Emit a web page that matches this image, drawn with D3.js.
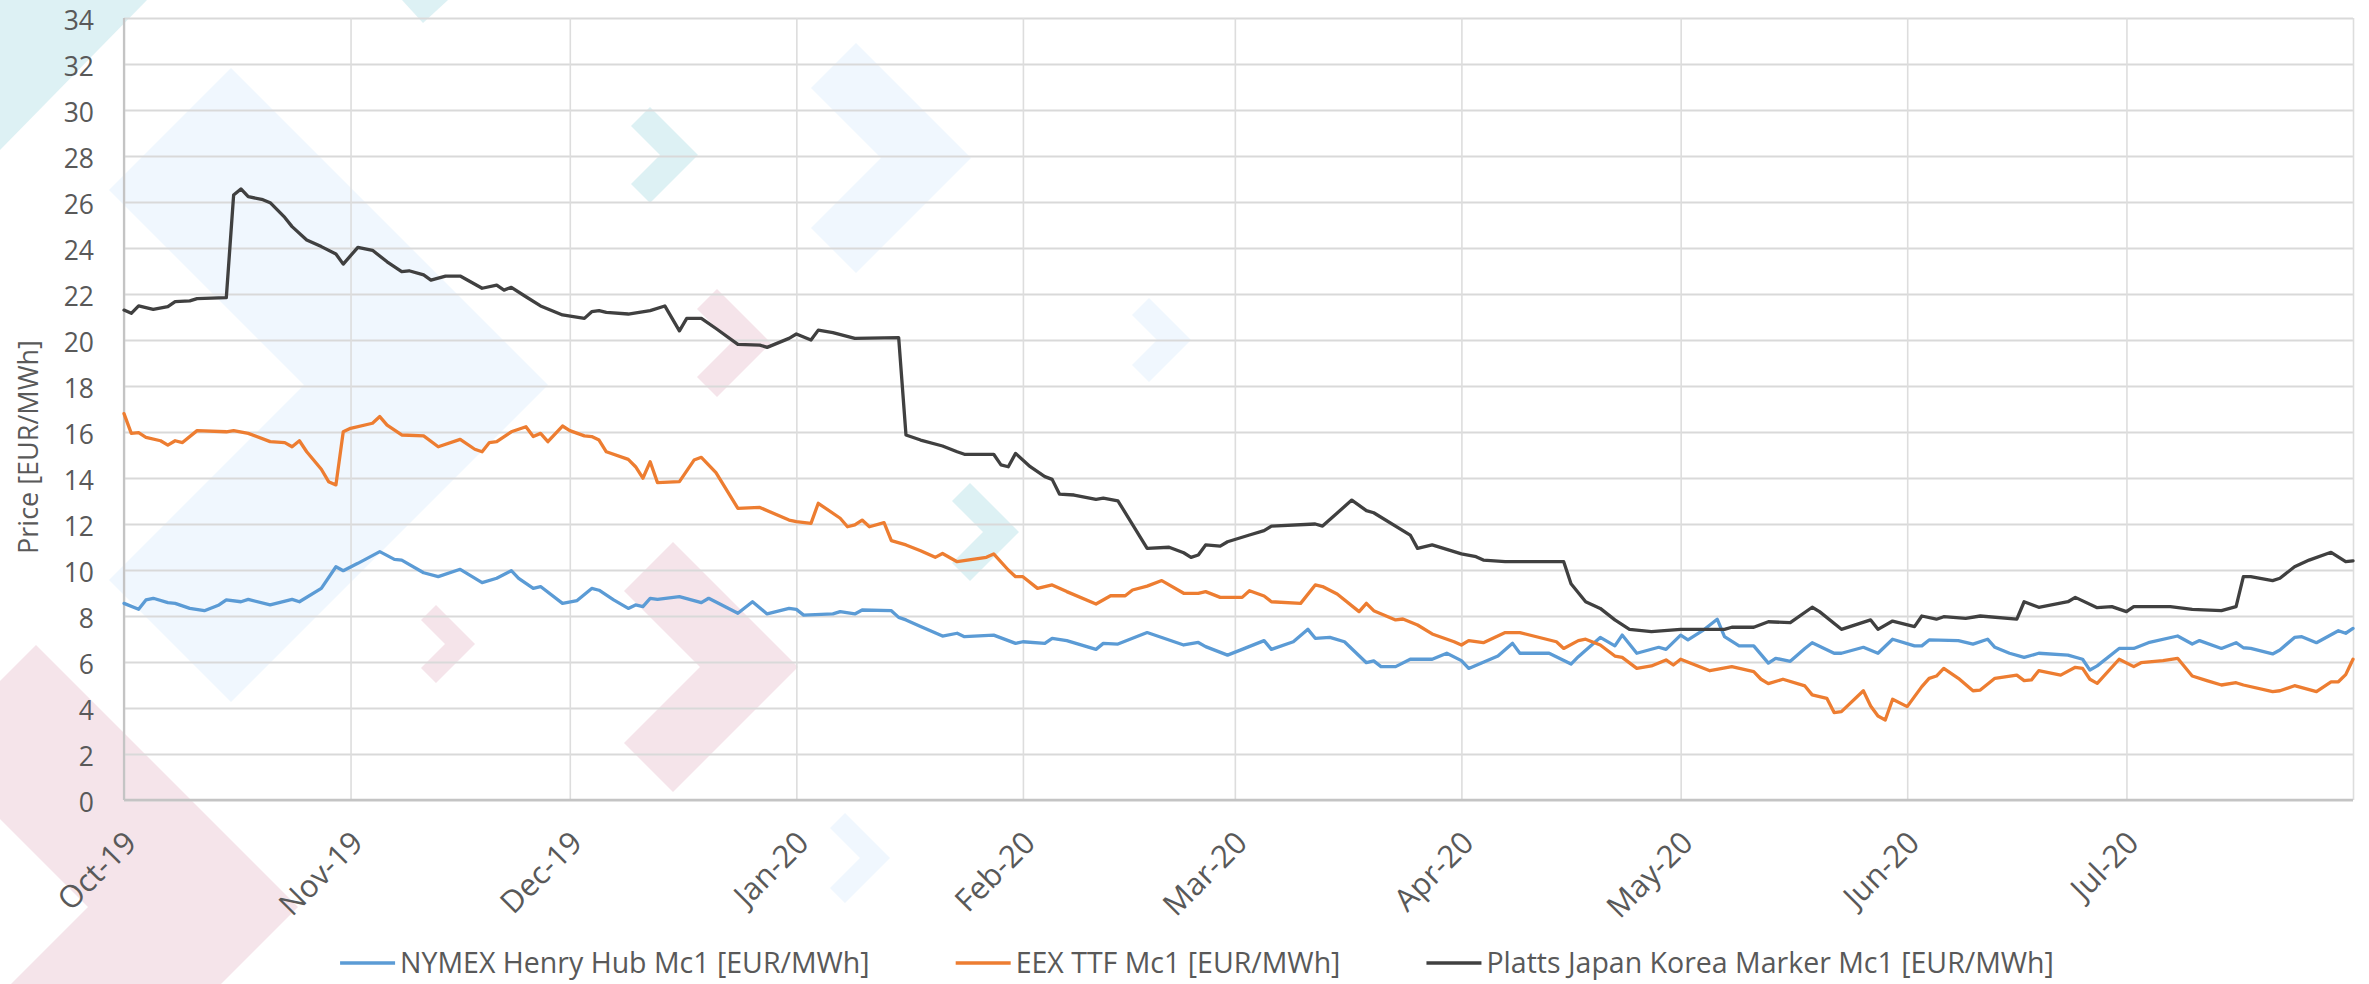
<!DOCTYPE html>
<html>
<head>
<meta charset="utf-8">
<script src="https://cdn.jsdelivr.net/npm/d3@7"></script>
<style>
  html, body { margin: 0; padding: 0; background: #ffffff; }
  svg { display: block; }
  text { font-family: "Open Sans", "DejaVu Sans", sans-serif; fill: #595959; }
</style>
</head>
<body>
<svg id="chart" width="2369" height="984"></svg>
<script>
// ---------------- DATA ----------------
const xTickLabels = ["Oct-19","Nov-19","Dec-19","Jan-20","Feb-20","Mar-20","Apr-20","May-20","Jun-20","Jul-20"];
const yTickValues = [0,2,4,6,8,10,12,14,16,18,20,22,24,26,28,30,32,34];
const axisStart = "2019-10-01";
const axisEnd = "2020-08-01";

const seriesNames = ["NYMEX Henry Hub Mc1 [EUR/MWh]", "EEX TTF Mc1 [EUR/MWh]", "Platts Japan Korea Marker Mc1 [EUR/MWh]"];
const seriesColors = ["#5B9BD5", "#ED7D31", "#404040"];

const hhDates = [
 "2019-10-01","2019-10-03","2019-10-04","2019-10-05","2019-10-07","2019-10-08","2019-10-10","2019-10-12","2019-10-14","2019-10-15","2019-10-17","2019-10-18","2019-10-21","2019-10-24","2019-10-25","2019-10-28","2019-10-30","2019-10-31",
 "2019-11-02","2019-11-05","2019-11-07","2019-11-08","2019-11-11","2019-11-13","2019-11-16","2019-11-19","2019-11-21","2019-11-23","2019-11-24","2019-11-26","2019-11-27","2019-11-30",
 "2019-12-02","2019-12-04","2019-12-05","2019-12-07","2019-12-09","2019-12-10","2019-12-11","2019-12-12","2019-12-13","2019-12-16","2019-12-19","2019-12-20","2019-12-24","2019-12-26","2019-12-28","2019-12-31",
 "2020-01-01","2020-01-02","2020-01-06","2020-01-07","2020-01-09","2020-01-10","2020-01-14","2020-01-15","2020-01-16","2020-01-18","2020-01-21","2020-01-23","2020-01-24","2020-01-28","2020-01-31",
 "2020-02-01","2020-02-04","2020-02-05","2020-02-07","2020-02-11","2020-02-12","2020-02-14","2020-02-18","2020-02-23","2020-02-25","2020-02-26","2020-02-29",
 "2020-03-02","2020-03-05","2020-03-06","2020-03-09","2020-03-11","2020-03-12","2020-03-14","2020-03-16","2020-03-19","2020-03-20","2020-03-21","2020-03-23","2020-03-25","2020-03-28","2020-03-30",
 "2020-04-01","2020-04-02","2020-04-06","2020-04-08","2020-04-09","2020-04-13","2020-04-16","2020-04-17","2020-04-20","2020-04-22","2020-04-23","2020-04-25","2020-04-28","2020-04-29",
 "2020-05-01","2020-05-02","2020-05-04","2020-05-06","2020-05-07","2020-05-09","2020-05-11","2020-05-13","2020-05-14","2020-05-16","2020-05-18","2020-05-19","2020-05-22","2020-05-23","2020-05-26","2020-05-28","2020-05-30",
 "2020-06-02","2020-06-03","2020-06-04","2020-06-08","2020-06-10","2020-06-12","2020-06-13","2020-06-15","2020-06-17","2020-06-19","2020-06-23","2020-06-25","2020-06-26","2020-06-27","2020-06-30",
 "2020-07-02","2020-07-04","2020-07-08","2020-07-10","2020-07-11","2020-07-14","2020-07-16","2020-07-17","2020-07-18","2020-07-21","2020-07-22","2020-07-24","2020-07-25","2020-07-27","2020-07-30","2020-07-31",
 "2020-08-01"];
const hhValues = [
 8.55,8.29,8.7,8.77,8.58,8.55,8.33,8.23,8.48,8.7,8.62,8.72,8.48,8.72,8.62,9.2,10.14,9.97,
 10.29,10.8,10.46,10.43,9.88,9.71,10.03,9.45,9.64,9.97,9.64,9.2,9.28,8.55,
 8.67,9.2,9.12,8.7,8.33,8.48,8.41,8.77,8.72,8.84,8.58,8.77,8.12,8.62,8.09,8.33,
 8.29,8.04,8.09,8.19,8.09,8.26,8.23,7.94,7.83,7.54,7.13,7.25,7.1,7.17,6.81,
 6.88,6.81,7.03,6.93,6.55,6.81,6.78,7.28,6.74,6.85,6.67,6.3,
 6.55,6.93,6.55,6.88,7.42,7.03,7.07,6.88,5.97,6.05,5.8,5.8,6.12,6.12,6.38,
 6.06,5.72,6.26,6.81,6.38,6.38,5.91,6.23,7.07,6.7,7.17,6.38,6.64,6.55,
 7.17,6.96,7.36,7.86,7.1,6.7,6.7,5.95,6.16,6.03,6.59,6.84,6.38,6.38,6.64,6.38,6.99,
 6.7,6.7,6.96,6.93,6.78,6.99,6.64,6.38,6.2,6.38,6.3,6.12,5.65,5.83,6.59,
 6.59,6.84,7.13,6.78,6.93,6.59,6.84,6.62,6.59,6.35,6.52,7.07,7.1,6.84,7.36,7.25,
 7.46];

const ttfDates = [
 "2019-10-01","2019-10-02","2019-10-03","2019-10-04","2019-10-06","2019-10-07","2019-10-08","2019-10-09","2019-10-11","2019-10-15","2019-10-16","2019-10-18","2019-10-21","2019-10-23","2019-10-24","2019-10-25","2019-10-26","2019-10-28","2019-10-29","2019-10-30","2019-10-31",
 "2019-11-01","2019-11-04","2019-11-05","2019-11-06","2019-11-08","2019-11-11","2019-11-13","2019-11-16","2019-11-18","2019-11-19","2019-11-20","2019-11-21","2019-11-23","2019-11-25","2019-11-26","2019-11-27","2019-11-28","2019-11-30",
 "2019-12-01","2019-12-03","2019-12-04","2019-12-05","2019-12-06","2019-12-09","2019-12-10","2019-12-11","2019-12-12","2019-12-13","2019-12-16","2019-12-18","2019-12-19","2019-12-21","2019-12-24","2019-12-27","2019-12-31",
 "2020-01-01","2020-01-03","2020-01-04","2020-01-07","2020-01-08","2020-01-09","2020-01-10","2020-01-11","2020-01-13","2020-01-14","2020-01-16","2020-01-18","2020-01-20","2020-01-21","2020-01-23","2020-01-27","2020-01-28","2020-01-30","2020-01-31",
 "2020-02-01","2020-02-03","2020-02-05","2020-02-07","2020-02-11","2020-02-13","2020-02-15","2020-02-16","2020-02-18","2020-02-20","2020-02-23","2020-02-25","2020-02-26","2020-02-28",
 "2020-03-02","2020-03-03","2020-03-05","2020-03-06","2020-03-10","2020-03-12","2020-03-13","2020-03-15","2020-03-18","2020-03-19","2020-03-20","2020-03-23","2020-03-24","2020-03-26","2020-03-28","2020-03-31",
 "2020-04-01","2020-04-02","2020-04-04","2020-04-07","2020-04-09","2020-04-14","2020-04-15","2020-04-17","2020-04-18","2020-04-20","2020-04-22","2020-04-23","2020-04-25","2020-04-27","2020-04-29","2020-04-30",
 "2020-05-01","2020-05-03","2020-05-05","2020-05-08","2020-05-11","2020-05-12","2020-05-13","2020-05-15","2020-05-18","2020-05-19","2020-05-21","2020-05-22","2020-05-23","2020-05-26","2020-05-27","2020-05-28","2020-05-29","2020-05-30",
 "2020-06-01","2020-06-03","2020-06-04","2020-06-05","2020-06-06","2020-06-08","2020-06-10","2020-06-11","2020-06-13","2020-06-16","2020-06-17","2020-06-18","2020-06-19","2020-06-22","2020-06-24","2020-06-25","2020-06-26","2020-06-27","2020-06-30",
 "2020-07-02","2020-07-03","2020-07-06","2020-07-08","2020-07-10","2020-07-12","2020-07-14","2020-07-16","2020-07-17","2020-07-21","2020-07-22","2020-07-24","2020-07-27","2020-07-29","2020-07-30","2020-07-31",
 "2020-08-01"];
const ttfValues = [
 16.8,15.94,15.97,15.77,15.62,15.43,15.62,15.54,16.06,16.01,16.06,15.94,15.58,15.54,15.36,15.62,15.14,14.38,13.84,13.7,16.01,
 16.16,16.38,16.67,16.3,15.87,15.83,15.36,15.68,15.25,15.14,15.54,15.58,16.01,16.23,15.8,15.94,15.58,16.26,
 16.06,15.83,15.8,15.65,15.14,14.81,14.49,13.99,14.71,13.8,13.84,14.78,14.9,14.23,12.68,12.72,12.17,
 12.1,12.03,12.9,12.25,11.88,11.96,12.17,11.88,12.06,11.28,11.09,10.84,10.55,10.72,10.36,10.55,10.7,10.0,9.71,
 9.71,9.2,9.35,9.06,8.52,8.88,8.88,9.13,9.3,9.54,8.99,8.98,9.06,8.81,
 8.81,9.1,8.87,8.62,8.55,9.35,9.28,8.96,8.19,8.55,8.23,7.83,7.87,7.61,7.22,6.88,
 6.74,6.93,6.84,7.28,7.28,6.88,6.59,6.93,6.99,6.74,6.26,6.2,5.72,5.83,6.09,5.87,
 6.12,5.87,5.62,5.8,5.58,5.25,5.06,5.25,4.96,4.57,4.42,3.8,3.84,4.75,4.09,3.65,3.48,4.38,
 4.06,4.93,5.29,5.39,5.72,5.29,4.75,4.78,5.29,5.43,5.19,5.22,5.62,5.43,5.77,5.72,5.25,5.07,6.12,
 5.8,5.97,6.06,6.16,5.39,5.19,5.0,5.1,5.0,4.71,4.75,4.97,4.71,5.14,5.14,5.45,
 6.12];

const jkmDates = [
 "2019-10-01","2019-10-02","2019-10-03","2019-10-05","2019-10-07","2019-10-08","2019-10-10","2019-10-11","2019-10-15","2019-10-16","2019-10-17","2019-10-18","2019-10-20","2019-10-21","2019-10-23","2019-10-24","2019-10-26","2019-10-28","2019-10-30","2019-10-31",
 "2019-11-02","2019-11-04","2019-11-06","2019-11-08","2019-11-09","2019-11-11","2019-11-12","2019-11-14","2019-11-16","2019-11-19","2019-11-21","2019-11-22","2019-11-23","2019-11-25","2019-11-27","2019-11-30",
 "2019-12-03","2019-12-04","2019-12-05","2019-12-06","2019-12-09","2019-12-12","2019-12-14","2019-12-16","2019-12-17","2019-12-19","2019-12-21","2019-12-24","2019-12-27","2019-12-28","2019-12-31",
 "2020-01-01","2020-01-03","2020-01-04","2020-01-06","2020-01-09","2020-01-15","2020-01-16","2020-01-18","2020-01-21","2020-01-23","2020-01-24","2020-01-28","2020-01-29","2020-01-30","2020-01-31",
 "2020-02-02","2020-02-04","2020-02-05","2020-02-06","2020-02-08","2020-02-11","2020-02-12","2020-02-14","2020-02-18","2020-02-21","2020-02-23","2020-02-24","2020-02-25","2020-02-26","2020-02-28","2020-02-29",
 "2020-03-03","2020-03-05","2020-03-06","2020-03-12","2020-03-13","2020-03-17","2020-03-19","2020-03-20","2020-03-25","2020-03-26","2020-03-28",
 "2020-04-01","2020-04-03","2020-04-04","2020-04-07","2020-04-15","2020-04-16","2020-04-18","2020-04-20","2020-04-22","2020-04-24","2020-04-27",
 "2020-05-01","2020-05-07","2020-05-08","2020-05-11","2020-05-13","2020-05-16","2020-05-19","2020-05-20","2020-05-23","2020-05-27","2020-05-28","2020-05-30",
 "2020-06-02","2020-06-03","2020-06-05","2020-06-06","2020-06-09","2020-06-11","2020-06-16","2020-06-17","2020-06-19","2020-06-23","2020-06-24","2020-06-27","2020-06-29",
 "2020-07-01","2020-07-02","2020-07-07","2020-07-10","2020-07-14","2020-07-16","2020-07-17","2020-07-18","2020-07-21","2020-07-22","2020-07-24","2020-07-26","2020-07-29","2020-07-31",
 "2020-08-01"];
const jkmValues = [
 21.3,21.16,21.48,21.33,21.45,21.67,21.7,21.8,21.84,26.3,26.57,26.23,26.1,25.97,25.33,24.93,24.35,24.06,23.74,23.3,
 24.03,23.9,23.4,22.97,23.01,22.83,22.6,22.78,22.78,22.25,22.39,22.17,22.29,21.88,21.48,21.09,
 20.94,21.23,21.28,21.2,21.13,21.28,21.48,20.4,20.94,20.94,20.5,19.81,19.78,19.68,20.07,
 20.26,20.0,20.43,20.32,20.07,20.1,15.87,15.65,15.39,15.14,15.03,15.03,14.57,14.49,15.07,
 14.49,14.06,13.94,13.3,13.26,13.07,13.12,13.01,10.94,10.99,10.75,10.55,10.65,11.09,11.04,11.23,
 11.52,11.71,11.91,12.0,11.91,13.04,12.58,12.49,11.52,10.94,11.09,
 10.7,10.58,10.43,10.36,10.36,9.4,8.62,8.33,7.83,7.42,7.32,
 7.42,7.42,7.51,7.51,7.75,7.71,8.38,8.19,7.42,7.83,7.42,7.78,
 7.54,8.0,7.86,7.97,7.9,8.0,7.86,8.62,8.38,8.62,8.81,8.36,8.41,
 8.19,8.41,8.41,8.29,8.23,8.41,9.71,9.71,9.54,9.64,10.14,10.43,10.77,10.36,
 10.4];

// decorative watermark chevrons (background ornament, not data): [x0, tipY, half-height, thickness, colour]
const decorChevrons = [
 [231, 385, 317, 122, "#F0F7FE"],
 [856, 158, 115, 45, "#F0F7FE"],
 [1149, 340, 42, 17, "#F0F7FE"],
 [845, 858, 45, 15, "#F0F7FE"],
 [36, 907, 262, 105, "#F5E4EA"],
 [673, 667, 125, 49, "#F5E4EA"],
 [436, 644, 39, 15, "#F5E4EA"],
 [717, 343, 54, 20, "#F5E4EA"],
 [650, 155, 48, 19, "#DDF1F4"],
 [970, 532, 49, 18, "#DDF1F4"]
];
const decorTriangles = [
 [[0,0],[147,0],[0,150], "#DDF1F4"],
 [[402,0],[448,0],[423,23], "#DDF1F4"]
];

// ---------------- LAYOUT ----------------
const M = { left: 124, right: 2353, top: 18, bottom: 800 };
const svg = d3.select("#chart");
const parse = d3.timeParse("%Y-%m-%d");

const x = d3.scaleTime().domain([parse(axisStart), parse(axisEnd)]).range([M.left, M.right]);
const y = d3.scaleLinear().domain([0, 34]).range([M.bottom, M.top]);

// background ornament
const decor = svg.append("g");
function chevron(x0, cy, h, d) {
  return [[x0, cy - h], [x0 + h, cy], [x0, cy + h], [x0 - d, cy + h - d], [x0 + h - 2 * d, cy], [x0 - d, cy - h + d]];
}
decorTriangles.forEach(t => {
  decor.append("polygon").attr("points", t.slice(0, 3).map(p => p.join(",")).join(" ")).attr("fill", t[3]);
});
decorChevrons.forEach(c => {
  decor.append("polygon").attr("points", chevron(c[0], c[1], c[2], c[3]).map(p => p.join(",")).join(" ")).attr("fill", c[4]);
});

// month ticks
const monthDates = d3.timeMonth.range(parse(axisStart), parse(axisEnd));
const gridDates = monthDates.concat([parse(axisEnd)]);

// horizontal grid
svg.append("g")
  .attr("transform", `translate(${M.left},0)`)
  .call(d3.axisLeft(y).tickValues(yTickValues).tickSize(-(M.right - M.left)).tickFormat(""))
  .call(g => g.select(".domain").remove())
  .selectAll("line").attr("stroke", "#D9D9D9").attr("stroke-width", 2.2);

// vertical grid
svg.append("g")
  .attr("transform", `translate(0,${M.bottom})`)
  .call(d3.axisBottom(x).tickValues(gridDates).tickSize(-(M.bottom - M.top)).tickFormat(""))
  .call(g => g.select(".domain").remove())
  .selectAll("line").attr("stroke", "#DDDDDD").attr("stroke-width", 1.6);

// axis lines
svg.append("line").attr("x1", M.left).attr("x2", M.left).attr("y1", M.top).attr("y2", M.bottom)
  .attr("stroke", "#C4C4C4").attr("stroke-width", 2.2);
svg.append("line").attr("x1", M.left).attr("x2", M.right).attr("y1", M.bottom).attr("y2", M.bottom)
  .attr("stroke", "#C4C4C4").attr("stroke-width", 2.5);

// y tick labels
const yAxisG = svg.append("g")
  .attr("transform", `translate(${M.left},0)`)
  .call(d3.axisLeft(y).tickValues(yTickValues).tickSize(0).tickPadding(30).tickFormat(d3.format("d")));
yAxisG.select(".domain").remove();
yAxisG.attr("font-family", null).attr("font-size", null);
yAxisG.selectAll("text").attr("font-size", 26.5).attr("dy", "0.45em").style("fill", "#595959");

// x tick labels
const xAxisG = svg.append("g")
  .attr("transform", `translate(0,${M.bottom})`)
  .call(d3.axisBottom(x).tickValues(monthDates).tickSize(0).tickFormat((d, i) => xTickLabels[i]));
xAxisG.select(".domain").remove();
xAxisG.attr("font-family", null).attr("font-size", null);
xAxisG.selectAll("text")
  .attr("font-size", 31)
  .attr("x", 0).attr("y", 0)
  .attr("dy", "0.35em")
  .attr("text-anchor", "end")
  .attr("transform", "translate(6,37) rotate(-45)")
  .style("fill", "#595959");

// y axis title
svg.append("text")
  .attr("transform", `translate(38,447) rotate(-90)`)
  .attr("text-anchor", "middle")
  .attr("font-size", 27)
  .text("Price [EUR/MWh]");

// series lines
const series = [
  { name: seriesNames[0], color: seriesColors[0], data: hhDates.map((d, i) => ({ date: parse(d), v: hhValues[i] })) },
  { name: seriesNames[1], color: seriesColors[1], data: ttfDates.map((d, i) => ({ date: parse(d), v: ttfValues[i] })) },
  { name: seriesNames[2], color: seriesColors[2], data: jkmDates.map((d, i) => ({ date: parse(d), v: jkmValues[i] })) }
];
const line = d3.line().x(d => x(d.date)).y(d => y(d.v));
svg.append("g").selectAll("path").data(series).join("path")
  .attr("d", d => line(d.data))
  .attr("fill", "none")
  .attr("stroke", d => d.color)
  .attr("stroke-width", 3.3)
  .attr("stroke-linejoin", "round")
  .attr("stroke-linecap", "round");

// legend
const legend = svg.append("g");
const sampleLen = 55, sampleGap = 5, itemGap = 86, legendBaseline = 973, legendCenter = 1197;
const items = legend.selectAll("g").data(series).join("g");
items.append("line").attr("x1", 0).attr("x2", sampleLen).attr("y1", legendBaseline - 10).attr("y2", legendBaseline - 10)
  .attr("stroke", d => d.color).attr("stroke-width", 3.5);
items.append("text").attr("x", sampleLen + sampleGap).attr("y", legendBaseline)
  .attr("font-size", 28.5).text(d => d.name);
let widths = [];
items.each(function () { widths.push(sampleLen + sampleGap + d3.select(this).select("text").node().getComputedTextLength()); });
const total = d3.sum(widths) + itemGap * (widths.length - 1);
let cx = legendCenter - total / 2;
items.attr("transform", (d, i) => { const t = `translate(${cx},0)`; cx += widths[i] + itemGap; return t; });
</script>
</body>
</html>
